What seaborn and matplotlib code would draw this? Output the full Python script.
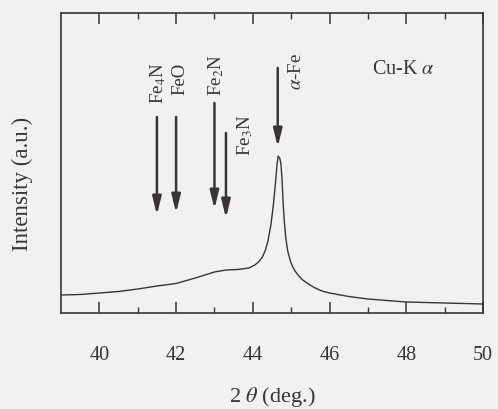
import numpy as np
import pandas as pd
import matplotlib
matplotlib.use("Agg")
import matplotlib.pyplot as plt
import seaborn as sns

# XRD pattern (Cu-Kα), intensity in arbitrary units
two_theta = [39.0, 39.5, 40.0, 40.5, 41.0, 41.5, 42.0, 42.5, 43.0, 43.3, 43.6, 43.9,
             44.05, 44.15, 44.25, 44.33, 44.4, 44.47, 44.53, 44.59, 44.63, 44.66, 44.7,
             44.73, 44.76, 44.79, 44.82, 44.86, 44.91, 44.97, 45.03, 45.1, 45.2,
             45.3, 45.45, 45.6, 45.8, 46.0, 46.5, 47.0, 47.5, 48.0, 48.5, 49.0,
             49.5, 50.0]
intensity = [18, 18.5, 20, 21.5, 24, 27, 29.5, 35, 41, 43, 43.5, 45,
             48, 51, 56, 63, 73, 88, 106, 130, 148, 157, 155,
             150, 135, 110, 92, 75, 62, 53, 47, 42, 37,
             33, 29, 25.5, 22, 20, 16.5, 14, 12.5, 11, 10.5, 10,
             9.5, 9]

# Reference peak positions marked with arrows
phases = ["Fe$_4$N", "FeO", "Fe$_2$N", "Fe$_3$N", r"$\alpha$-Fe"]
phase_pos = [41.5, 42.0, 43.0, 43.3, 44.65]
arrow_top = [196, 196, 210, 180, 245]
arrow_tip = [98, 100, 104, 95, 166]
label_x = [41.52, 42.1, 43.05, 43.8, 45.15]
label_y = [230, 234, 238, 178, 241]

sns.set_theme(style="white")
plt.rcParams["font.family"] = ["Liberation Serif", "DejaVu Serif"]
plt.rcParams["mathtext.fontset"] = "stix"

ink = "#3a3436"
bg = "#f1f1f0"

fig = plt.figure(figsize=(4.98, 4.09), dpi=100, facecolor=bg)
ax = fig.add_axes([61 / 498, 1 - 313 / 409, 422 / 498, 300 / 409])
ax.set_facecolor(bg)

df = pd.DataFrame({"two_theta": two_theta, "intensity": intensity})
sns.lineplot(data=df, x="two_theta", y="intensity", ax=ax, color=ink, lw=1.0)

for name, x, top, tip, lx, ly in zip(phases, phase_pos, arrow_top, arrow_tip, label_x, label_y):
    ax.annotate("", xy=(x, tip), xytext=(x, top),
                arrowprops=dict(arrowstyle="-|>,head_length=0.9,head_width=0.22",
                                color=ink, lw=1.8, shrinkA=0, shrinkB=0))
    ax.text(lx, ly, name, rotation=90, ha="center", va="center",
            fontsize=13.5, color=ink)

ax.text(47.1, 243, r"Cu-K $\alpha$", ha="left", va="center", fontsize=14.5, color=ink)

ax.set_xlim(39, 50)
ax.set_ylim(0, 300)
ax.set_xticks([40, 42, 44, 46, 48, 50])
ax.set_xticks([41, 43, 45, 47, 49], minor=True)
ax.set_yticks([])
ax.tick_params(axis="x", which="major", direction="in", length=8, width=1.1,
               top=True, bottom=True, pad=24, labelsize=14.5, colors=ink)
ax.tick_params(axis="x", which="minor", direction="in", length=4, width=1.0,
               top=True, bottom=True, colors=ink)
for s in ax.spines.values():
    s.set_color(ink)
    s.set_linewidth(1.2)

ax.set_xlabel(r"2 $\theta$ (deg.)", fontsize=16, color=ink)
ax.xaxis.set_label_coords(0.5, -0.24)
ax.set_ylabel("Intensity (a.u.)", fontsize=16.5, color=ink)
ax.yaxis.set_label_coords(-0.066, 0.43)

fig.savefig("out.png", dpi=100, facecolor=bg)
